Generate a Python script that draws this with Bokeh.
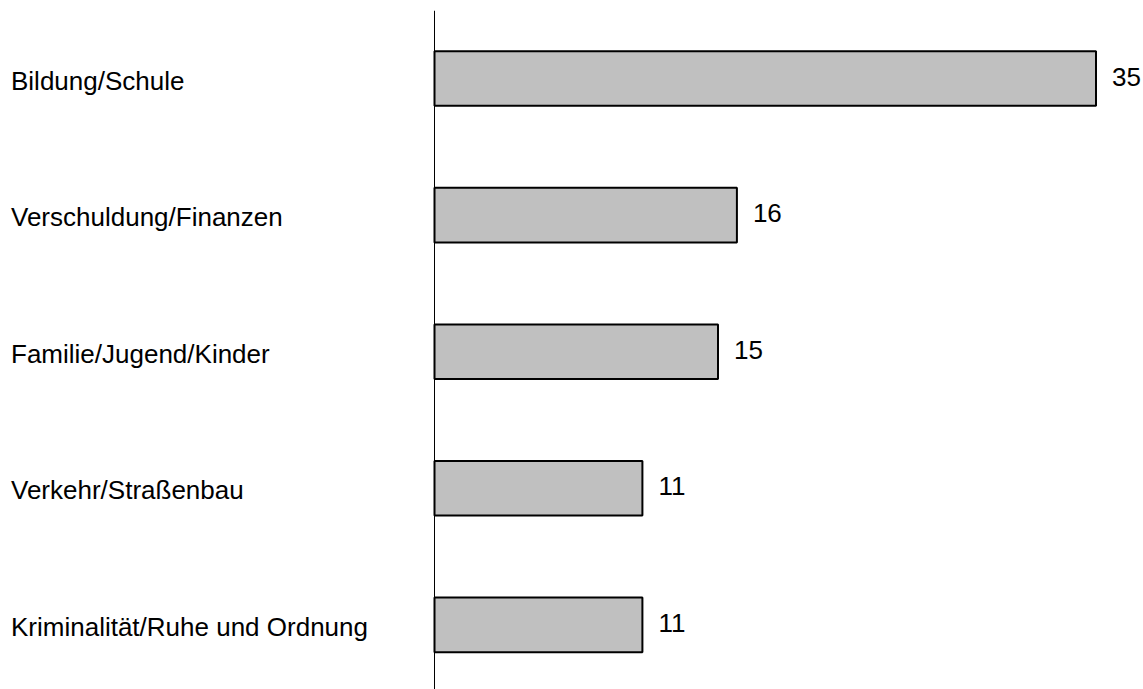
from bokeh.plotting import figure
from bokeh.models import ColumnDataSource, Range1d, Span
from bokeh.core.properties import value
from bokeh.embed import file_html
from bokeh.resources import INLINE

categories = ["Bildung/Schule", "Verschuldung/Finanzen", "Familie/Jugend/Kinder",
              "Verkehr/Straßenbau", "Kriminalität/Ruhe und Ordnung"]
values = [35, 16, 15, 11, 11]
value_labels = [str(v) for v in values]

pos = list(range(len(categories)))
src = ColumnDataSource(dict(y=pos, cat=categories, v=values, lab=value_labels,
                            zero=[0] * len(values)))

W, H = 1143, 689
p = figure(width=W, height=H, output_backend="svg", toolbar_location=None,
           x_range=Range1d(-22.963, 37.513), y_range=Range1d(4.473, -0.498),
           min_border=0, min_border_top=10, outline_line_color=None)
p.axis.visible = False
p.grid.visible = False
p.background_fill_color = "white"
p.border_fill_color = "white"

p.hbar(y="y", left="zero", right="v", height=0.4, source=src,
       fill_color="#C0C0C0", line_color="black", line_width=2)

p.add_layout(Span(location=0, dimension="height", line_color="black", line_width=1))

font = value("Liberation Sans")
p.text(x="v", y="y", text="lab", source=src, x_offset=16, y_offset=-2, text_font=font,
       text_font_size="26px", text_baseline="middle", text_align="left", text_color="black")
p.text(x="zero", y="y", text="cat", source=src, x_offset=-423.5, y_offset=2, text_font=font,
       text_font_size="26px", text_baseline="middle", text_align="left", text_color="black")

open("out.html", "w").write(file_html(p, INLINE))
